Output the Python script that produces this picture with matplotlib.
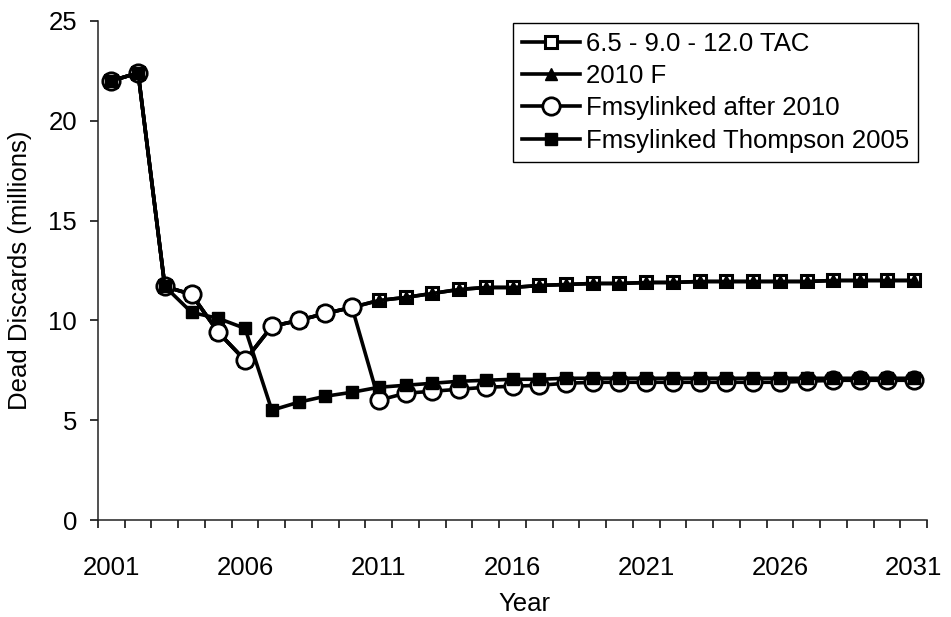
import numpy as np
import matplotlib
matplotlib.use('Agg')
import matplotlib.pyplot as plt
import matplotlib.ticker as ticker

plt.rcParams['font.family'] = ['Liberation Sans', 'DejaVu Sans']

# data (dead discards, millions)
years = list(range(2001, 2032))
tac = [22.0, 22.4, 11.7, 11.3, 9.4, 8.0, 9.7, 10.0, 10.35, 10.65,
       11.0, 11.15, 11.35, 11.55, 11.65, 11.65, 11.75, 11.8, 11.85, 11.85,
       11.9, 11.9, 11.95, 11.95, 11.95, 11.95, 11.95, 12.0, 12.0, 12.0, 12.0]
f2010 = [22.0, 22.4, 11.7, 11.3, 9.4, 8.0, 9.7, 10.0, 10.35, 10.65,
         11.0, 11.15, 11.35, 11.55, 11.65, 11.65, 11.75, 11.8, 11.85, 11.85,
         11.9, 11.9, 11.95, 11.95, 11.95, 11.95, 11.95, 12.0, 12.0, 12.0, 12.0]
fmsy_after_2010 = [22.0, 22.4, 11.7, 11.3, 9.4, 8.0, 9.7, 10.0, 10.35, 10.65,
                   6.0, 6.35, 6.45, 6.55, 6.65, 6.7, 6.75, 6.85, 6.9, 6.9,
                   6.9, 6.9, 6.9, 6.9, 6.9, 6.9, 6.95, 7.0, 7.0, 7.0, 7.0]
fmsy_thompson = [22.0, 22.4, 11.7, 10.4, 10.1, 9.6, 5.5, 5.9, 6.2, 6.4,
                 6.65, 6.75, 6.85, 6.95, 7.0, 7.05, 7.05, 7.1, 7.1, 7.1,
                 7.1, 7.1, 7.1, 7.1, 7.1, 7.1, 7.1, 7.1, 7.1, 7.1, 7.1]
labels = ['6.5 - 9.0 - 12.0 TAC', '2010 F',
          'Fmsylinked after 2010', 'Fmsylinked Thompson 2005']

fs = 18.5
lw = 2.6

fig = plt.figure(figsize=(9.51, 6.17), dpi=100)
ax = fig.add_axes([98 / 951, 1 - 520 / 617, 829 / 951, 499 / 617])

idx = np.arange(len(years))
ax.plot(idx, tac, color='black', lw=lw, marker='s', ms=9,
        mfc='white', mec='black', mew=2.2, label=labels[0])
ax.plot(idx, f2010, color='black', lw=lw, marker='^', ms=8,
        mfc='black', mec='black', label=labels[1])
ax.plot(idx, fmsy_after_2010, color='black', lw=lw, marker='o', ms=12.5,
        mfc='white', mec='black', mew=2.0, label=labels[2])
ax.plot(idx, fmsy_thompson, color='black', lw=lw, marker='s', ms=9,
        mfc='black', mec='black', label=labels[3])

ax.set_xlim(-0.5, len(years) - 0.5)
ax.set_ylim(0, 25)

for s in ['top', 'right']:
    ax.spines[s].set_visible(False)
for s in ['left', 'bottom']:
    ax.spines[s].set_linewidth(1.1)
    ax.spines[s].set_color('#222222')

ax.yaxis.set_major_locator(ticker.MultipleLocator(5))
ax.tick_params(axis='y', direction='out', length=6, width=1.1,
               labelsize=fs, pad=9)

# category axis: ticks between categories, labels every 5 years
ax.set_xticks(idx[::5])
ax.set_xticklabels([str(y) for y in years[::5]])
ax.set_xticks(np.arange(-0.5, len(years)), minor=True)
ax.tick_params(axis='x', which='major', length=0, labelsize=fs, pad=26)
ax.tick_params(axis='x', which='minor', direction='out', length=6, width=1.1)

ax.set_xlabel('Year', fontsize=fs)
ax.xaxis.set_label_coords(0.515, -0.145)
ax.set_ylabel('Dead Discards (millions)', fontsize=fs, labelpad=12)

leg = ax.legend(loc='upper right', bbox_to_anchor=(918 / 951, 1 - 23 / 617),
                bbox_transform=fig.transFigure, fontsize=fs, fancybox=False,
                framealpha=1, handlelength=2.25, handletextpad=0.22,
                labelspacing=0.32, borderpad=0.35, borderaxespad=0)
leg.get_frame().set_edgecolor('black')
leg.get_frame().set_linewidth(1.0)

fig.savefig('out.png', dpi=100)
